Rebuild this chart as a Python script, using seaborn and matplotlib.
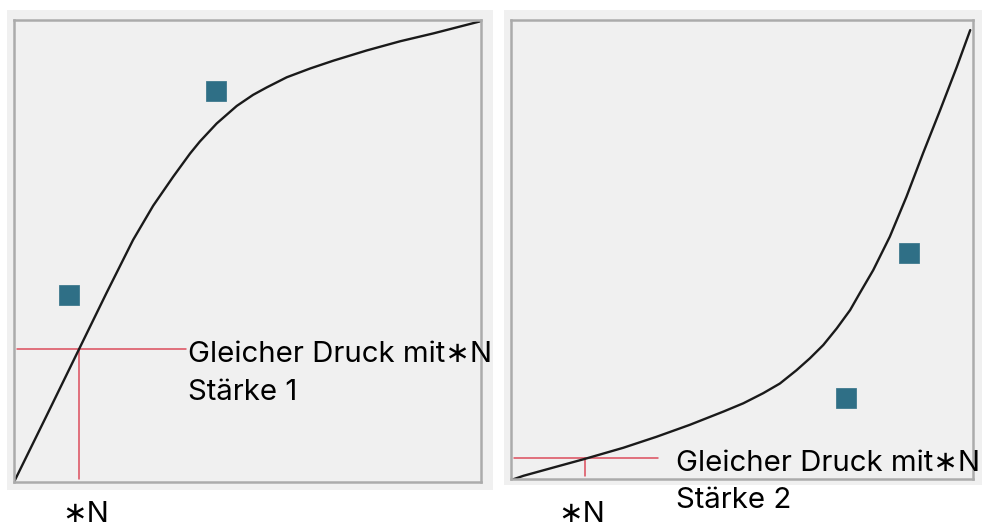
import numpy as np
import pandas as pd
import matplotlib
matplotlib.use("Agg")
import matplotlib.pyplot as plt
from matplotlib.patches import Rectangle
import seaborn as sns

# ---------------- data (axes units 0..1) ----------------
curve1_x = [0.000, 0.070, 0.140, 0.198, 0.255, 0.298, 0.341, 0.377, 0.398, 0.434,
            0.477, 0.512, 0.541, 0.584, 0.634, 0.684, 0.755, 0.827, 0.898, 0.998]
curve1_y = [0.000, 0.144, 0.289, 0.409, 0.524, 0.598, 0.661, 0.711, 0.737, 0.776,
            0.814, 0.838, 0.854, 0.876, 0.895, 0.912, 0.934, 0.954, 0.971, 0.997]
points1_x = [0.118, 0.433]
points1_y = [0.405, 0.846]
mark1_x = 0.139
mark1_y = 0.288

curve2_x = [0.001, 0.027, 0.099, 0.157, 0.243, 0.315, 0.387, 0.460, 0.503, 0.546,
            0.582, 0.618, 0.647, 0.676, 0.705, 0.734, 0.755, 0.784, 0.820, 0.856,
            0.892, 0.929, 0.965, 0.994]
curve2_y = [-0.002, 0.007, 0.027, 0.043, 0.068, 0.092, 0.118, 0.147, 0.165, 0.187,
            0.208, 0.237, 0.263, 0.292, 0.328, 0.368, 0.405, 0.455, 0.528, 0.615,
            0.710, 0.804, 0.898, 0.978]
points2_x = [0.725, 0.861]
points2_y = [0.176, 0.492]
mark2_x = 0.160
mark2_y = 0.046

label_main = "Gleicher Druck mit\u2217N"
label_sub = ["St\u00e4rke 1", "St\u00e4rke 2"]
axis_label = "\u2217N"

# ---------------- styling ----------------
sns.set_theme(style="white")
plt.rcParams["font.family"] = ["Inter", "DejaVu Sans"]

W, H = 982, 528
fig = plt.figure(figsize=(W / 100, H / 100), dpi=100)
fig.patch.set_facecolor("white")

def fx(x):
    return x / W

def fy(y):
    return 1 - y / H

BG = "#f0f0f0"
SQ = "#2f6f86"
RED = "#dc4c5c"
SPINE = "#ababab"

# outer light boxes
fig.patches.append(Rectangle((fx(7), fy(490)), 486 / W, 480 / H,
                             transform=fig.transFigure, facecolor=BG, edgecolor="none", zorder=-5))
fig.patches.append(Rectangle((fx(504), fy(485)), 478 / W, 475 / H,
                             transform=fig.transFigure, facecolor=BG, edgecolor="none", zorder=-5))

ax1 = fig.add_axes([fx(14), fy(482), 467 / W, 462 / H])
ax2 = fig.add_axes([fx(511), fy(479), 462 / W, 459 / H])
ax1.set_zorder(2)
ax2.set_zorder(2)

panels = [
    (ax1, curve1_x, curve1_y, points1_x, points1_y, mark1_x, mark1_y, 0.368),
    (ax2, curve2_x, curve2_y, points2_x, points2_y, mark2_x, mark2_y, 0.318),
]

for ax, cx, cy, px, py, mx, my, hend in panels:
    ax.set_facecolor(BG)
    df_c = pd.DataFrame({"x": cx, "y": cy})
    df_p = pd.DataFrame({"x": px, "y": py})
    # red marker lines
    ax.plot([0.006, hend], [my, my], color=RED, lw=1.1, zorder=1)
    ax.plot([mx, mx], [my, 0.006], color=RED, lw=1.1, zorder=1)
    sns.lineplot(data=df_c, x="x", y="y", ax=ax, color="#1a1a1a", lw=1.7,
                 sort=False, estimator=None, zorder=2)
    sns.scatterplot(data=df_p, x="x", y="y", ax=ax, marker="s", s=225,
                    color=SQ, edgecolor=SQ, linewidth=0.5, zorder=3)
    ax.set_xlim(0, 1)
    ax.set_ylim(0, 1)
    ax.set_xticks([])
    ax.set_yticks([])
    ax.set_xlabel("")
    ax.set_ylabel("")
    for sp in ax.spines.values():
        sp.set_visible(True)
        sp.set_color(SPINE)
        sp.set_linewidth(1.8)

FS = 21.2
# panel 1 texts
fig.text(fx(188), fy(362), label_main, fontsize=FS, color="black", va="baseline", ha="left", zorder=5)
fig.text(fx(188), fy(400), label_sub[0], fontsize=FS, color="black", va="baseline", ha="left", zorder=5)
fig.text(fx(62), fy(522), axis_label, fontsize=FS, color="black", va="baseline", ha="left", zorder=5)
# panel 2 texts
fig.text(fx(676), fy(471), label_main, fontsize=FS, color="black", va="baseline", ha="left", zorder=5)
fig.text(fx(676), fy(508), label_sub[1], fontsize=FS, color="black", va="baseline", ha="left", zorder=5)
fig.text(fx(558), fy(522), axis_label, fontsize=FS, color="black", va="baseline", ha="left", zorder=5)

fig.savefig("out.png", dpi=100, facecolor="white")
